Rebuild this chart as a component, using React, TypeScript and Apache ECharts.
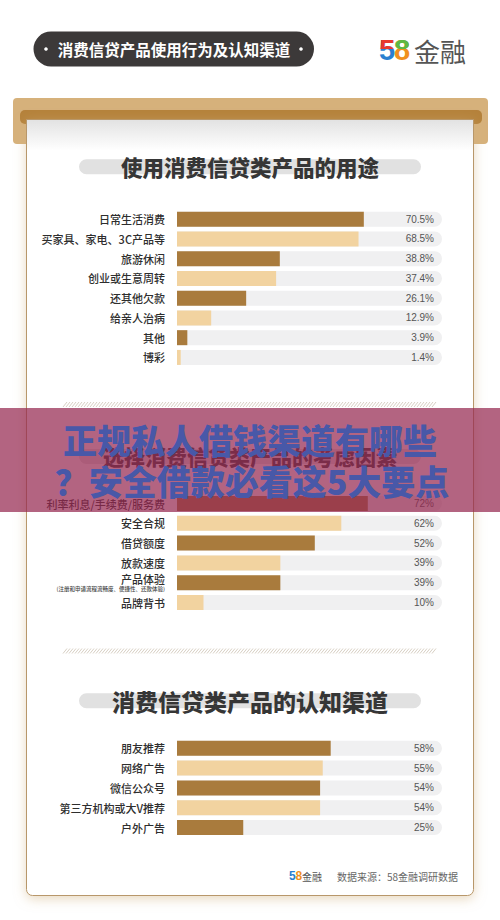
import React, { useEffect, useRef } from "react";
import * as echarts from "echarts";

// ---------- data ----------
const usageCats = ["日常生活消费", "买家具、家电、3C产品等", "旅游休闲", "创业或生意周转", "还其他欠款", "给亲人治病", "其他", "博彩"];
const usageVals = [70.5, 68.5, 38.8, 37.4, 26.1, 12.9, 3.9, 1.4];
const usageLabels = ["70.5%", "68.5%", "38.8%", "37.4%", "26.1%", "12.9%", "3.9%", "1.4%"];

const factorCats = ["利率利息/手续费/服务费", "安全合规", "借贷额度", "放款速度", "产品体验", "品牌背书"];
const factorVals = [72, 62, 52, 39, 39, 10];
const factorLabels = ["72%", "62%", "52%", "39%", "39%", "10%"];

const channelCats = ["朋友推荐", "网络广告", "微信公众号", "第三方机构或大V推荐", "户外广告"];
const channelVals = [58, 55, 54, 54, 25];
const channelLabels = ["58%", "55%", "54%", "54%", "25%"];

const headerText = "消费信贷产品使用行为及认知渠道";
const title1 = "使用消费信贷类产品的用途";
const title2 = "选择消费信贷类产品的考虑因素";
const title3 = "消费信贷类产品的认知渠道";
const productNote = "(注册和申请流程流畅度、便捷性、还款体验)";
const sourceText = "数据来源：58金融调研数据";
const overlayLine1 = "正规私人借钱渠道有哪些";
const overlayLine2 = "？安全借款必看这5大要点";

const DARK = "#a97b3d";
const LIGHT = "#f2d3a0";
const TRACK = "#f0f0f1";
const FONT = '"Noto Sans CJK SC", "Noto Sans", sans-serif';
const DIGIT_FONT = `bold 29px Arial, "Liberation Sans", sans-serif`;

// hatch separator path
let hatchD = "";
for (let x = 0; x < 372; x += 3) {
  hatchD += `M${x} 5 L${x + 4} 0 `;
}
echarts.graphic.registerShape("hatch", echarts.graphic.extendPath(hatchD, {}));

function titleGroup(text: string, cy: number, size: number, pillTop: number) {
  return [
    { type: "rect", shape: { x: 79, y: pillTop, width: 342, height: 15, r: 7.5 }, style: { fill: "#e1e1e1" }, z: 1 },
    {
      type: "text", x: 250, y: cy, z: 3,
      style: { text, fill: "#363636", font: `900 ${size}px ${FONT}`, align: "center", verticalAlign: "middle" },
    },
  ];
}

function makeSeries(idx: number, vals: number[], labels: string[]) {
  return [
    {
      type: "bar", xAxisIndex: idx, yAxisIndex: idx, barWidth: 15, barGap: "-100%", silent: true,
      data: vals.map(() => 100),
      itemStyle: { color: TRACK, borderRadius: [0, 8, 8, 0] },
      label: {
        show: true, position: "insideRight", distance: 8, color: "#555", fontSize: 10,
        fontFamily: "Arial, Liberation Sans, sans-serif",
        formatter: (p: any) => labels[p.dataIndex],
      },
      z: 2,
    },
    {
      type: "bar", xAxisIndex: idx, yAxisIndex: idx, barWidth: 15, barGap: "-100%", silent: true,
      data: vals.map((v, i) => ({ value: v, itemStyle: { color: i % 2 === 0 ? DARK : LIGHT } })),
      z: 3,
    },
  ];
}

function makeYAxis(idx: number, cats: string[]) {
  return {
    type: "category", gridIndex: idx, data: cats, inverse: true,
    axisLine: { show: false }, axisTick: { show: false },
    axisLabel: {
      margin: 12, color: "#2e2e2e", fontSize: 11, fontWeight: 500, fontFamily: FONT,
      formatter: (v: string) => (v === "产品体验" ? `{a|${v}}\n{b|${productNote}}` : v),
      rich: {
        a: { fontSize: 11, fontWeight: 500, lineHeight: 13, color: "#2e2e2e", fontFamily: FONT, align: "right" },
        b: { fontSize: 5.5, lineHeight: 7, color: "#444", fontFamily: FONT, align: "right" },
      },
    },
  };
}

// two-colour digit: bottom colour full glyph, top colour clipped to upper part
function twoToneDigit(ch: string, x: number, y: number, top: string, bottom: string, split: number, font: string) {
  return {
    type: "group", x, y,
    children: [
      { type: "text", x: 0, y: 0, style: { text: ch, fill: bottom, font, verticalAlign: "middle" } },
      {
        type: "text", x: 0, y: 0, style: { text: ch, fill: top, font, verticalAlign: "middle" },
        clipPath: { type: "rect", shape: { x: -5, y: -30, width: 40, height: 30 + split } },
      },
    ],
  };
}

export default function App() {
  const ref = useRef<HTMLDivElement>(null);
  useEffect(() => {
    if (!ref.current) return;
    const chart = echarts.init(ref.current, undefined, { renderer: "svg" });
    const grids = [
      { left: 177, width: 265, top: 209.3, height: 158 },
      { left: 177, width: 265, top: 493.6, height: 118.8 },
      { left: 177, width: 265, top: 738.4, height: 99 },
    ];
    const graphics: any[] = [
      // header pill
      { type: "rect", shape: { x: 33.5, y: 31.5, width: 280.5, height: 35, r: 17.5 }, style: { fill: "#3c3939" } },
      { type: "circle", shape: { cx: 46, cy: 49, r: 1.8 }, style: { fill: "#fff" } },
      { type: "circle", shape: { cx: 301, cy: 49, r: 1.8 }, style: { fill: "#fff" } },
      { type: "text", x: 174, y: 49, style: { text: headerText, fill: "#fff", font: `bold 15.5px ${FONT}`, align: "center", verticalAlign: "middle" } },
      { type: "text", x: 414, y: 50, style: { text: "金融", fill: "#555", font: `26px ${FONT}`, verticalAlign: "middle" } },
      // frame
      { type: "rect", shape: { x: 13, y: 98, width: 475, height: 46, r: 4 }, style: { fill: "#d6b17b" }, z: -5 },
      { type: "rect", shape: { x: 20, y: 110, width: 462, height: 14, r: 5 }, style: { fill: "#b5823b" }, z: -4 },
      {
        type: "rect", shape: { x: 26.5, y: 119.5, width: 447, height: 776, r: [0, 0, 6, 6] }, z: -3,
        style: {
          fill: new echarts.graphic.LinearGradient(0, 0, 0, 1, [
            { offset: 0, color: "#e2e2e2" }, { offset: 0.04, color: "#ffffff" }, { offset: 1, color: "#ffffff" },
          ]),
          stroke: "#b8976a", lineWidth: 1,
          shadowBlur: 12, shadowColor: "rgba(210,180,130,0.5)", shadowOffsetY: 3,
        },
      },
      ...titleGroup(title1, 166.5, 21.5, 159.3),
      { type: "hatch", x: 63, y: 402, style: { stroke: "#d8d0c4", lineWidth: 1, fill: null }, z: 1 },
      ...titleGroup(title2, 456, 21, 449),
      { type: "hatch", x: 63, y: 648.5, style: { stroke: "#d8d0c4", lineWidth: 1, fill: null }, z: 1 },
      ...titleGroup(title3, 701, 23, 693.3),
      // footer
      { type: "text", x: 289, y: 876, style: { text: "5", fill: "#2a7fd0", font: `bold 12px Arial, sans-serif`, verticalAlign: "middle" } },
      { type: "text", x: 295.5, y: 876, style: { text: "8", fill: "#f0901e", font: `bold 12px Arial, sans-serif`, verticalAlign: "middle" } },
      { type: "text", x: 302, y: 876, style: { text: "金融", fill: "#555", font: `10px ${FONT}`, verticalAlign: "middle" } },
      { type: "text", x: 337, y: 876, style: { text: sourceText, fill: "#666", font: `10px ${FONT}`, verticalAlign: "middle" } },
      // overlay band
      { type: "rect", shape: { x: 0, y: 408, width: 500, height: 104 }, style: { fill: "rgba(150,40,80,0.72)" }, z: 100 },
      { type: "text", x: 250, y: 439, z: 101, style: { text: overlayLine1, fill: "#4858a8", font: `900 34px ${FONT}`, align: "center", verticalAlign: "middle" } },
      { type: "text", x: 252, y: 480, z: 101, style: { text: overlayLine2, fill: "#4858a8", font: `900 34px ${FONT}`, align: "center", verticalAlign: "middle" } },
    ];

    chart.setOption({
      animation: false,
      grid: grids,
      xAxis: [0, 1, 2].map((i) => ({ type: "value", gridIndex: i, min: 0, max: 100, show: false })),
      yAxis: [makeYAxis(0, usageCats), makeYAxis(1, factorCats), makeYAxis(2, channelCats)],
      series: [
        ...makeSeries(0, usageVals, usageLabels),
        ...makeSeries(1, factorVals, factorLabels),
        ...makeSeries(2, channelVals, channelLabels),
        {
          type: "custom", coordinateSystem: "none", silent: true, data: [[0]],
          renderItem: () => ({
            type: "group",
            children: [
              twoToneDigit("5", 379, 50, "#e8392c", "#2a7fd0", -1, DIGIT_FONT),
              twoToneDigit("8", 394, 50, "#5db844", "#f0901e", -1, DIGIT_FONT),
            ],
          }),
        },
      ],
      graphic: { elements: graphics },
    });
    return () => chart.dispose();
  }, []);
  return <div ref={ref} style={{ position: "absolute", left: 0, top: 0, width: 500, height: 920, background: "#fff" }} />;
}
